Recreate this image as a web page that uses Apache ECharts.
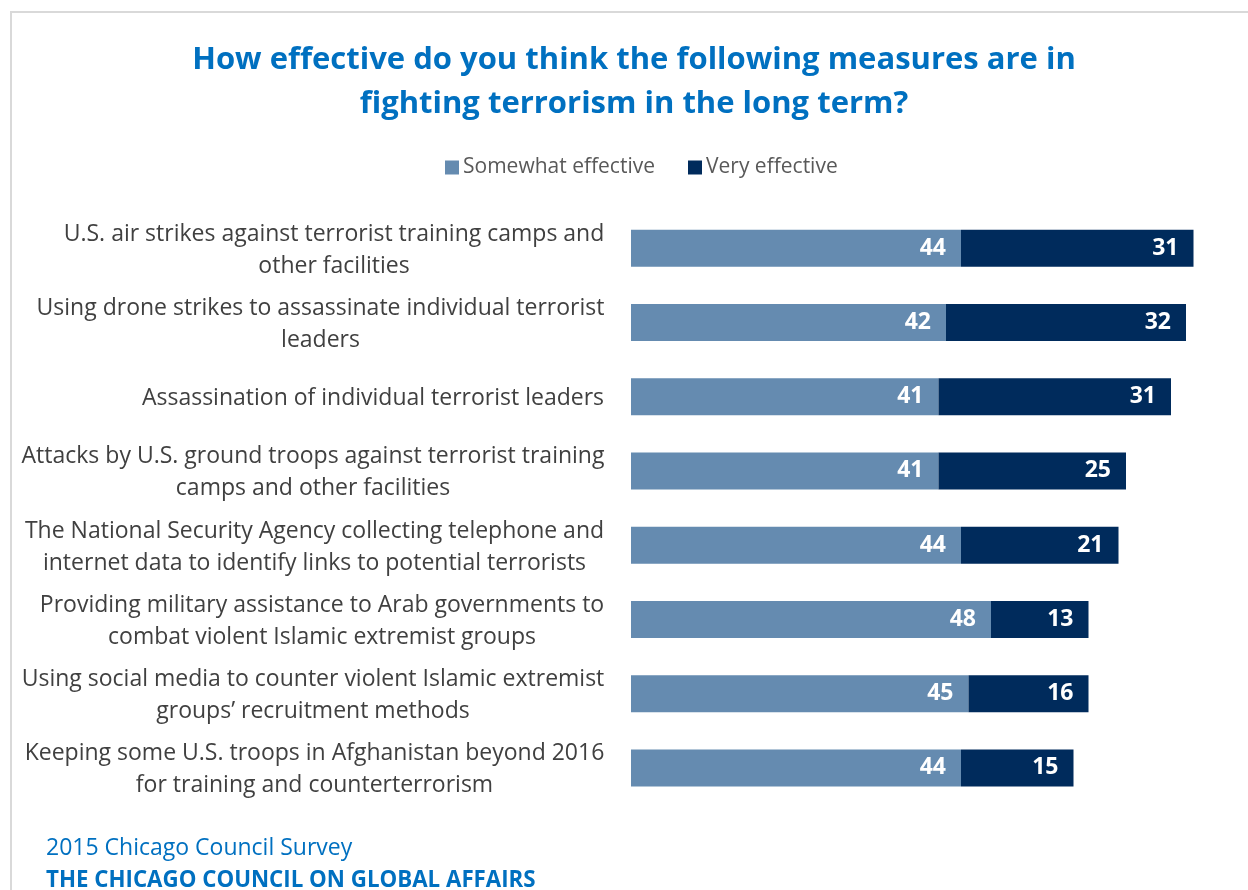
<!DOCTYPE html>
<html>
<head>
<meta charset="utf-8">
<script src="https://cdn.jsdelivr.net/npm/echarts@6/dist/echarts.min.js"></script>
<style>
  html, body { margin: 0; padding: 0; background: #ffffff; }
  #chart { width: 1248px; height: 890px; }
</style>
</head>
<body>
<div id="chart"></div>
<script>
// Survey measures (top to bottom) and their shares in percent
const categories = [
  'U.S. air strikes against terrorist training camps and\nother facilities',
  'Using drone strikes to assassinate individual terrorist\nleaders',
  'Assassination of individual terrorist leaders',
  'Attacks by U.S. ground troops against terrorist training\ncamps and other facilities',
  'The National Security Agency collecting telephone and\ninternet data to identify links to potential terrorists',
  'Providing military assistance to Arab governments to\ncombat violent Islamic extremist groups',
  'Using social media to counter violent Islamic extremist\ngroups\u2019 recruitment methods',
  'Keeping some U.S. troops in Afghanistan beyond 2016\nfor training and counterterrorism'
];
const somewhatEffective = [44, 42, 41, 41, 44, 48, 45, 44];
const veryEffective = [31, 32, 31, 25, 21, 13, 16, 15];
const seriesNames = ['Somewhat effective', 'Very effective'];

const FONT = '"Open Sans", "Noto Sans", sans-serif';
const LABEL_SIZE = 23;

// Measure each label so multi-line text can be centred within its own block
const ctx = document.createElement('canvas').getContext('2d');
ctx.font = LABEL_SIZE + 'px ' + FONT;
const rich = {};
categories.forEach((c, i) => {
  const w = Math.max(...c.split('\n').map(l => ctx.measureText(l).width));
  rich['c' + i] = {
    width: Math.ceil(w) + 1, align: 'center',
    fontSize: LABEL_SIZE, fontFamily: FONT, color: '#404040', lineHeight: 32
  };
});

const chart = echarts.init(document.getElementById('chart'));
chart.setOption({
  backgroundColor: '#ffffff',
  animation: false,
  title: {
    text: 'How effective do you think the following measures are in\nfighting terrorism in the long term?',
    left: 629, top: 33, textAlign: 'center',
    textStyle: { fontFamily: FONT, fontWeight: 'bold', fontSize: 31, color: '#0070C0', lineHeight: 44 }
  },
  legend: {
    top: 152, left: 440, itemWidth: 14, itemHeight: 14, itemGap: 33,
    icon: 'rect',
    textStyle: { fontFamily: FONT, fontSize: 21, color: '#595959', padding: [0, 0, 0, -1] },
    data: seriesNames
  },
  grid: { left: 631, top: 211, width: 600, height: 594, containLabel: false },
  xAxis: {
    type: 'value', min: 0, max: 80, show: false
  },
  yAxis: {
    type: 'category', inverse: true, data: categories,
    axisLine: { show: false }, axisTick: { show: false },
    axisLabel: {
      margin: 26, align: 'right', padding: [4, 0, 0, 0],
      formatter: (v, i) => v.split('\n').map(l => '{c' + i + '|' + l + '}').join('\n'),
      rich: rich
    }
  },
  series: [
    {
      name: seriesNames[0], type: 'bar', stack: 'total', barWidth: 37,
      data: somewhatEffective,
      itemStyle: { color: '#658BB0' },
      label: { show: true, position: 'insideRight', distance: 15,
        fontFamily: FONT, fontWeight: 'bold', fontSize: 23, color: '#ffffff' }
    },
    {
      name: seriesNames[1], type: 'bar', stack: 'total', barWidth: 37,
      data: veryEffective,
      itemStyle: { color: '#002B5C' },
      label: { show: true, position: 'insideRight', distance: 15,
        fontFamily: FONT, fontWeight: 'bold', fontSize: 23, color: '#ffffff' }
    }
  ],
  graphic: [
    { type: 'rect', shape: { x: 11, y: 12, width: 1260, height: 900 },
      style: { fill: 'none', stroke: '#d9d9d9', lineWidth: 2 }, silent: true },
    { type: 'text', left: 46, top: 837,
      style: { text: '2015 Chicago Council Survey', font: '23px ' + FONT, fill: '#0070C0' } },
    { type: 'text', left: 46, top: 870,
      style: { text: 'THE CHICAGO COUNCIL ON GLOBAL AFFAIRS', font: 'bold 22.3px ' + FONT, fill: '#0070C0' } }
  ]
});
</script>
</body>
</html>
